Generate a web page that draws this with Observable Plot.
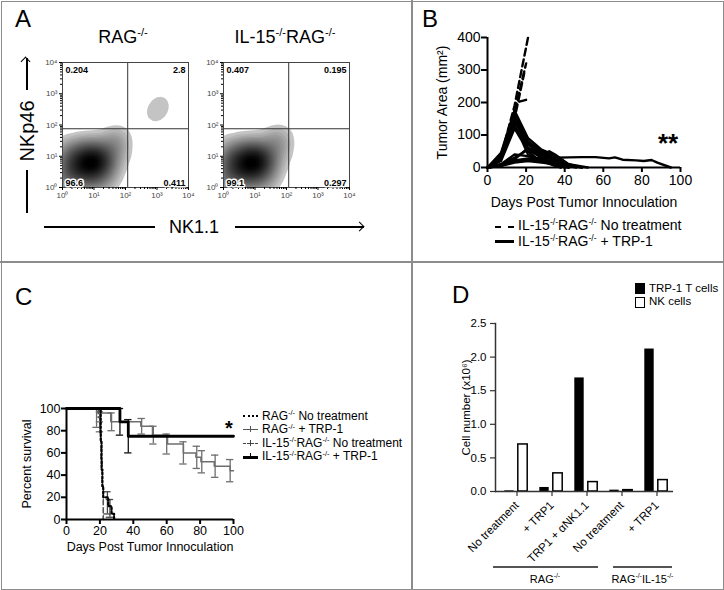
<!DOCTYPE html>
<html><head><meta charset="utf-8">
<script src="https://cdn.jsdelivr.net/npm/d3@7"></script>
<script src="https://cdn.jsdelivr.net/npm/@observablehq/plot@0.6"></script>
<style>
html,body{margin:0;padding:0;background:#fff;}
#fig{position:relative;width:724px;height:590px;overflow:hidden;font-family:"Liberation Sans",Arial,Helvetica,sans-serif;color:#000;background:#fff;}
.abs{position:absolute;white-space:nowrap;line-height:1;}
sup{font-size:0.62em;line-height:0;vertical-align:0;position:relative;top:-0.62em;}
</style></head><body><div id="fig"></div>
<script>
// ---------------- DATA ----------------
// Panel A: flow cytometry density (positions in log10 decades: [NK1.1, NKp46, weight])
const flowRAG = [
  [0.9,0.8,10],[0.6,0.75,10],[1.2,0.85,10],[0.9,1.05,10],[0.9,0.55,10],
  [0.35,0.8,6],[0.4,1.1,6],[1.4,1.0,6],[1.3,0.6,6],[0.6,0.4,6],[1.0,0.35,6],[0.3,0.45,6],[0.7,1.2,6],[1.1,1.25,6],
  [0.15,1.2,3],[1.55,1.4,3],[1.7,1.5,2.5],[1.75,1.2,2.5],[1.65,0.8,3],[1.45,0.35,3],[0.2,0.15,3],[0.7,0.1,3],[1.2,0.1,3],
  [0.05,0.6,4],[0.05,0.95,4],[0.05,0.2,4],[1.8,1.6,1.5],
  [2.85,2.25,0.9],[3.0,2.45,1.3],[3.12,2.65,1.1],[3.2,2.85,0.5]
];
const flowIL15 = [
  [0.9,0.8,10],[0.6,0.75,10],[1.2,0.85,10],[0.9,1.05,10],[0.9,0.55,10],
  [0.35,0.8,6],[0.4,1.1,6],[1.4,1.0,6],[1.3,0.6,6],[0.6,0.4,6],[1.0,0.35,6],[0.3,0.45,6],[0.7,1.2,6],[1.1,1.25,6],
  [0.15,1.2,3],[1.55,1.4,3],[1.7,1.55,2.5],[1.8,1.25,2.5],[1.65,0.8,3],[1.45,0.35,3],[0.2,0.15,3],[0.7,0.1,3],[1.2,0.1,3],
  [0.05,0.6,4],[0.05,0.95,4],[0.05,0.2,4],[1.85,1.65,1.5]
];
const quadRAG = ["0.204","2.8","96.6","0.411"];
const quadIL15 = ["0.407","0.195","99.1","0.297"];
const gateNK11 = 2.07, gateNKp46 = 1.88;
const decadeTicks = [0,1,2,3,4];

// Panel B: tumor area per mouse [day, mm2]
const bTreated = [
  [[0,0],[7,45],[14,175],[21,90],[25,70],[28,55],[32,45],[35,35],[42,10],[49,0]],
  [[0,0],[7,40],[14,165],[21,80],[28,50],[35,30],[42,5],[46,0]],
  [[0,0],[7,35],[15,155],[21,75],[28,40],[35,20],[40,0]],
  [[0,0],[7,30],[14,145],[21,60],[28,35],[32,50],[35,40],[42,10],[52,0]],
  [[0,0],[7,30],[15,140],[21,55],[28,30],[35,15],[40,0]],
  [[0,0],[7,25],[14,130],[21,50],[25,30],[28,20],[35,10],[38,0]],
  [[0,0],[7,20],[14,120],[18,80],[21,40],[28,20],[35,5],[38,0]],
  [[0,0],[7,35],[14,150],[21,70],[28,45],[35,25],[42,0]],
  [[0,0],[7,10],[14,30],[21,55],[28,40],[35,20],[42,0]],
  [[0,0],[7,8],[14,25],[21,60],[28,45],[35,30],[40,0]],
  [[0,0],[7,5],[14,20],[21,25],[28,20],[35,15],[42,5],[49,0]],
  [[0,0],[7,5],[14,15],[21,20],[28,15],[35,10],[42,0]],
  [[0,0],[7,5],[14,22],[21,28],[28,30],[35,30],[42,31],[49,32],[56,32],[63,28],[66,31],[70,24],[77,22],[81,20],[85,23],[88,15],[95,0]],
  [[0,0],[7,10],[14,40],[21,35],[28,25],[35,12],[42,0]]
];
const bUntreated = [
  [[0,0],[7,35],[14,190],[21,400]],
  [[0,0],[7,30],[14,170],[20,320]],
  [[0,0],[7,25],[14,150],[19,290]],
  [[0,0],[7,30],[15,200],[21,210]]
];

// Panel C: survival [day, percent]; error bars [day, mean, half-width]
const survRagNT   = [[0,100],[20.5,70],[21,45],[21.5,30],[22,20],[25,12],[27,5],[28.5,0]];
const survRagTRP  = [[0,100],[20,96],[26.5,88],[44.5,84],[51.5,76],[60.5,68],[70,60],[77.5,56],[80.5,52],[88.5,48],[98,44],[100,44]];
const survIL15NT  = [[0,100],[19,92],[20,78],[20.7,55],[21.3,30],[22,0]];
const survIL15TRP = [[0,100],[32,88],[37,75],[100,75]];
const errRagNT    = [[24.5,15,10],[26,10,8]];
const errRagTRP   = [[20,94,6],[27,88,8],[45,84,7],[52,76,8],[60,68,9],[70,60,10],[78,56,10],[81,52,10],[89,48,10],[98,44,10]];
const errIL15NT   = [[18,92,9],[20,88,9]];
const errIL15TRP  = [[32,88,12],[37,75,15]];

// Panel D: cell numbers (x10^6)
const dGroups = ["No treatment","+ TRP1","TRP1 + \u03b1NK1.1","No treatment","+ TRP1"];
const dTrp = [0.01,0.06,1.69,0.02,2.12];
const dNK  = [0.70,0.27,0.14,0.02,0.17];

// ---------------- HELPERS ----------------
const FONT = '"Liberation Sans", Arial, Helvetica, sans-serif';
const fig = document.getElementById("fig");
const SUP = {0:"\u2070",1:"\u00b9",2:"\u00b2",3:"\u00b3",4:"\u2074"};
function html(str, left, top, css = {}) {
  const d = document.createElement("div"); d.className = "abs"; d.innerHTML = str;
  d.style.left = left + "px"; d.style.top = top + "px"; Object.assign(d.style, css); fig.appendChild(d); return d;
}
function box(left, top, w, h, css = {}) {
  const d = document.createElement("div"); d.style.position = "absolute";
  d.style.left = left + "px"; d.style.top = top + "px"; d.style.width = w + "px"; d.style.height = h + "px";
  Object.assign(d.style, css); fig.appendChild(d); return d;
}
function put(svg, left, top) {
  const d = document.createElement("div"); d.style.position = "absolute";
  d.style.left = left + "px"; d.style.top = top + "px"; d.appendChild(svg); fig.appendChild(d);
}

// ---------------- PANEL A ----------------
function flowPlot(arr, quads) {
  const pts = arr.map(([x, y, w]) => ({x, y, w}));
  const minor = [];
  for (let n = 0; n < 4; n++) for (let k = 2; k < 10; k++) minor.push(n + Math.log10(k));
  const q = {fontWeight: "bold", fontSize: 9, fill: "#000"};
  return Plot.plot({
    width: 165, height: 160, marginLeft: 32, marginTop: 12, marginRight: 7, marginBottom: 23,
    x: {domain: [0, 4], label: null}, y: {domain: [0, 4], label: null},
    color: {type: "pow", exponent: 0.6, range: ["#e4e4e4", "#000000"]},
    style: {fontFamily: FONT, fontSize: "8px", background: "transparent", overflow: "visible"},
    marks: [
      Plot.density(pts, {x: "x", y: "y", weight: "w", fill: "density", bandwidth: 7, thresholds: 28, clip: true}),
      Plot.ruleX([gateNK11], {stroke: "#333", strokeWidth: 1}),
      Plot.ruleY([gateNKp46], {stroke: "#333", strokeWidth: 1}),
      Plot.frame({stroke: "#444"}),
      Plot.axisX({ticks: decadeTicks, tickFormat: d => "10" + SUP[d], tickSize: 3, tickPadding: 2, fill: "#444", label: null}),
      Plot.axisX({ticks: minor, tickSize: 2, tickFormat: () => "", label: null}),
      Plot.axisY({ticks: decadeTicks, tickFormat: d => "10" + SUP[d], tickSize: 3, tickPadding: 2, fill: "#444", label: null}),
      Plot.axisY({ticks: minor, tickSize: 2, tickFormat: () => "", label: null}),
      Plot.text([quads[0]], {...q, frameAnchor: "top-left", textAnchor: "start", lineAnchor: "top", dx: 3, dy: 4}),
      Plot.text([quads[1]], {...q, frameAnchor: "top-right", textAnchor: "end", lineAnchor: "top", dx: -3, dy: 4}),
      Plot.text([quads[2]], {...q, frameAnchor: "bottom-left", textAnchor: "start", lineAnchor: "bottom", dx: 3, dy: -2, stroke: "white", strokeWidth: 3}),
      Plot.text([quads[3]], {...q, frameAnchor: "bottom-right", textAnchor: "end", lineAnchor: "bottom", dx: -3, dy: -2, stroke: "white", strokeWidth: 3})
    ]
  });
}
put(flowPlot(flowRAG, quadRAG), 30, 50);
put(flowPlot(flowIL15, quadIL15), 191, 50);

// ---------------- PANEL B ----------------
const bRowsT = [], bRowsU = [];
bTreated.forEach((m, i) => m.forEach(([day, area]) => bRowsT.push({mouse: "t" + i, day, area})));
bUntreated.forEach((m, i) => m.forEach(([day, area]) => bRowsU.push({mouse: "u" + i, day, area})));
put(Plot.plot({
  width: 300, height: 200, marginLeft: 75, marginRight: 32, marginTop: 17, marginBottom: 53,
  x: {domain: [0, 100]}, y: {domain: [0, 400]},
  style: {fontFamily: FONT, fontSize: "14px", background: "transparent", overflow: "visible"},
  marks: [
    Plot.line(bRowsT, {x: "day", y: "area", z: "mouse", stroke: "#000", strokeWidth: 2.4}),
    Plot.line(bRowsU, {x: "day", y: "area", z: "mouse", stroke: "#000", strokeWidth: 2.4, strokeDasharray: "7,4"}),
    Plot.ruleX([0], {strokeWidth: 2}),
    Plot.ruleY([0], {strokeWidth: 2}),
    Plot.axisX({ticks: [0,20,40,60,80,100], tickSize: 5, strokeWidth: 2, tickPadding: 3, label: "Days Post Tumor Innoculation", labelAnchor: "center", labelOffset: 39, labelArrow: "none"}),
    Plot.axisY({ticks: [0,100,200,300,400], tickSize: 6, strokeWidth: 2, tickPadding: 1, label: "Tumor Area (mm\u00b2)", labelAnchor: "center", labelOffset: 50, labelArrow: "none"})
  ]
}), 412, 20);

// ---------------- PANEL C ----------------
function rows(arr) { return arr.map(([d, p]) => ({d, p})); }
function errs(arr) { return arr.map(([d, m, h]) => ({d, lo: Math.max(0, m - h), hi: Math.min(100, m + h), c1: d - 2.2, c2: d + 2.2})); }
function errMarks(arr, stroke, w) {
  const e = errs(arr);
  return [
    Plot.ruleX(e, {x: "d", y1: "lo", y2: "hi", stroke, strokeWidth: w}),
    Plot.ruleY(e, {y: "lo", x1: "c1", x2: "c2", stroke, strokeWidth: w}),
    Plot.ruleY(e, {y: "hi", x1: "c1", x2: "c2", stroke, strokeWidth: w})
  ];
}
put(Plot.plot({
  width: 250, height: 165, marginLeft: 66, marginTop: 13, marginRight: 17, marginBottom: 41,
  x: {domain: [0, 100]}, y: {domain: [0, 100]},
  style: {fontFamily: FONT, fontSize: "12.5px", background: "transparent", overflow: "visible"},
  marks: [
    ...errMarks(errRagTRP, "#6e6e6e", 1.3),
    ...errMarks(errIL15NT, "#6e6e6e", 1.3),
    ...errMarks(errRagNT, "#444", 1.3),
    ...errMarks(errIL15TRP, "#111", 1.3),
    Plot.line(rows(survRagTRP), {x: "d", y: "p", curve: "step-after", stroke: "#6e6e6e", strokeWidth: 1.5}),
    Plot.line(rows(survIL15NT), {x: "d", y: "p", curve: "step-after", stroke: "#555", strokeWidth: 1.6, strokeDasharray: "5,3"}),
    Plot.line(rows(survRagNT), {x: "d", y: "p", curve: "step-after", stroke: "#000", strokeWidth: 2.2, strokeDasharray: "2,2"}),
    Plot.line(rows(survIL15TRP), {x: "d", y: "p", curve: "step-after", stroke: "#000", strokeWidth: 2.8}),
    Plot.ruleX([0], {strokeWidth: 2}),
    Plot.ruleY([0], {strokeWidth: 2}),
    Plot.axisX({ticks: [0,20,40,60,80,100], tickSize: 5, strokeWidth: 2, tickPadding: 2, label: "Days Post Tumor Innoculation", labelAnchor: "center", labelOffset: 31, labelArrow: "none"}),
    Plot.axisY({ticks: [0,20,40,60,80,100], tickSize: 5, strokeWidth: 2, tickPadding: 1, label: "Percent survival", labelAnchor: "center", labelOffset: 44, labelArrow: "none"})
  ]
}), 0, 395);

// ---------------- PANEL D ----------------
const dRowsT = dGroups.map((g, i) => ({i, v: dTrp[i]}));
const dRowsN = dGroups.map((g, i) => ({i, v: dNK[i]}));
put(Plot.plot({
  width: 290, height: 270, marginLeft: 75, marginRight: 37, marginTop: 13, marginBottom: 89,
  x: {domain: d3.range(dGroups.length), range: [77, 255], padding: 0},
  y: {domain: [0, 2.5]},
  style: {fontFamily: FONT, fontSize: "11.5px", background: "transparent", overflow: "visible"},
  marks: [
    Plot.barY(dRowsT, {x: "i", y: "v", fill: "#000", insetLeft: 5.3, insetRight: 20.3}),
    Plot.barY(dRowsN, {x: "i", y: "v", fill: "#fff", stroke: "#000", strokeWidth: 1.5, insetLeft: 18.8, insetRight: 6.8}),
    Plot.ruleY([0], {stroke: "#333", strokeWidth: 1.5}),
    Plot.frame({anchor: "left", stroke: "#333", strokeWidth: 1.5}),
    Plot.axisX({tickFormat: i => dGroups[i], tickRotate: -45, tickSize: 5, stroke: "#333", strokeWidth: 1.2, label: null}),
    Plot.axisY({ticks: [0,0.5,1,1.5,2,2.5], tickFormat: d => d.toFixed(1), tickSize: 5, stroke: "#333", strokeWidth: 1.2, label: "Cell number (x10\u2076)", labelAnchor: "center", labelOffset: 34, labelArrow: "none"})
  ]
}), 420, 310);

// ---------------- FRAME, LABELS, LEGENDS ----------------
box(0.5, 0.5, 723, 589, {border: "1.5px solid #8c8c8c", boxSizing: "border-box"});
box(0, 261, 724, 1.5, {background: "#8c8c8c"});
box(411, 0, 1.5, 590, {background: "#8c8c8c"});

html("A", 15, 6.7, {fontSize: "24px"});
html("B", 422, 6.7, {fontSize: "24px"});
html("C", 15, 284.7, {fontSize: "24px"});
html("D", 452, 282.7, {fontSize: "24px"});

html("RAG<sup>-/-</sup>", 123, 28, {fontSize: "18px", transform: "translateX(-50%)"});
html("IL-15<sup>-/-</sup>RAG<sup>-/-</sup>", 285, 28, {fontSize: "18px", transform: "translateX(-50%)"});
html("NKp46", 27, 131, {fontSize: "20px", transform: "translate(-50%,-50%) rotate(-90deg)"});
box(26.25, 170, 1.5, 43, {background: "#000"});
box(26.25, 58, 1.5, 32, {background: "#000"});
box(22, 58, 7, 7, {borderTop: "1.6px solid #000", borderLeft: "1.6px solid #000", transform: "rotate(45deg)", boxSizing: "border-box"});
html("NK1.1", 194, 217.8, {fontSize: "18px", transform: "translateX(-50%)"});
box(44, 226.25, 111, 1.5, {background: "#000"});
box(235, 226.25, 129, 1.5, {background: "#000"});
box(356, 223, 7, 7, {borderTop: "1.6px solid #000", borderRight: "1.6px solid #000", transform: "rotate(45deg)", boxSizing: "border-box"});

// Panel B legend + stars
box(495, 226, 19, 0, {borderTop: "2.5px dashed #000"});
html("IL-15<sup>-/-</sup>RAG<sup>-/-</sup> No treatment", 518, 218.2, {fontSize: "14px"});
box(495, 240, 19, 2.5, {background: "#000"});
html("IL-15<sup>-/-</sup>RAG<sup>-/-</sup> + TRP-1", 518, 234.2, {fontSize: "14px"});
html("**", 658, 129.6, {fontSize: "26px", fontWeight: "bold"});

// Panel C legend + star
function cSw(top, css, tick) {
  box(243, top, 15, 0, css);
  if (tick) box(250, top - 3, 1.2, 6, {background: tick});
}
cSw(415, {borderTop: "2px dotted #000"}, null);
cSw(429, {borderTop: "1.3px solid #555"}, "#555");
cSw(443, {borderTop: "1.6px dashed #444"}, "#444");
cSw(456, {borderTop: "3px solid #000"}, "#000");
html("RAG<sup>-/-</sup> No treatment", 262, 409.8, {fontSize: "12px"});
html("RAG<sup>-/-</sup> + TRP-1", 262, 423.3, {fontSize: "12px"});
html("IL-15<sup>-/-</sup>RAG<sup>-/-</sup> No treatment", 262, 436.8, {fontSize: "12px"});
html("IL-15<sup>-/-</sup>RAG<sup>-/-</sup> + TRP-1", 262, 450.3, {fontSize: "12px"});
html("*", 225, 418.4, {fontSize: "20px", fontWeight: "bold"});

// Panel D legend + group brackets
box(635, 283, 10, 11, {background: "#000"});
html("TRP-1 T cells", 649, 283.3, {fontSize: "11.5px"});
box(635, 297, 10, 11, {background: "#fff", border: "1.5px solid #000", boxSizing: "border-box"});
html("NK cells", 649, 296.3, {fontSize: "11.5px"});
box(493, 566.25, 105, 1.5, {background: "#555"});
box(613, 566.25, 59, 1.5, {background: "#555"});
html("RAG<sup>-/-</sup>", 545, 573.7, {fontSize: "11px", transform: "translateX(-50%)"});
html("RAG<sup>-/-</sup>IL-15<sup>-/-</sup>", 642.5, 573.7, {fontSize: "11px", transform: "translateX(-50%)"});
</script></body></html>
